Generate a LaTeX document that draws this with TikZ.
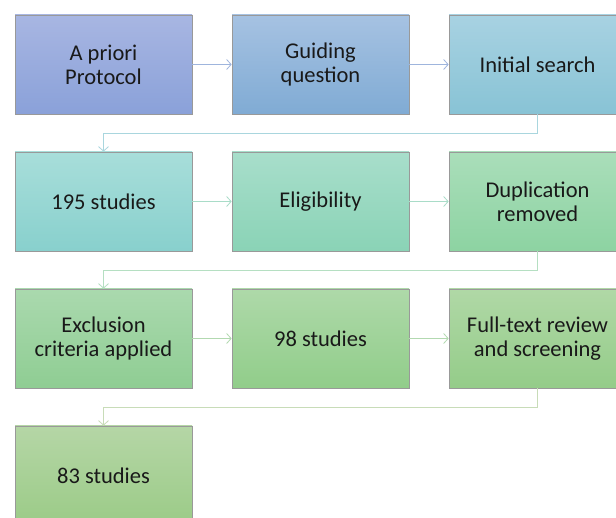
\documentclass[tikz,border=0pt]{standalone}
\usepackage{fontspec}
\setmainfont{Carlito}
\usetikzlibrary{arrows.meta}
\definecolor{aprioriTop}{HTML}{A8B6E2}
\definecolor{aprioriBot}{HTML}{8AA1D9}
\definecolor{guidingTop}{HTML}{A6C2E2}
\definecolor{guidingBot}{HTML}{80ABD4}
\definecolor{searchTop}{HTML}{A8D2E2}
\definecolor{searchBot}{HTML}{88C3D5}
\definecolor{foundTop}{HTML}{A8DEDA}
\definecolor{foundBot}{HTML}{88D0CD}
\definecolor{eligTop}{HTML}{A8DECB}
\definecolor{eligBot}{HTML}{8AD3B6}
\definecolor{dupTop}{HTML}{AADEBA}
\definecolor{dupBot}{HTML}{8DD3A2}
\definecolor{exclTop}{HTML}{AAD9AE}
\definecolor{exclBot}{HTML}{8FCD93}
\definecolor{keptTop}{HTML}{AED9A9}
\definecolor{keptBot}{HTML}{91CD8A}
\definecolor{fullTop}{HTML}{B0D8A6}
\definecolor{fullBot}{HTML}{94CC89}
\definecolor{finalTop}{HTML}{B5D6A6}
\definecolor{finalBot}{HTML}{9BCB87}
\definecolor{linkBlue}{HTML}{9FB5DD}
\definecolor{linkTeal}{HTML}{A9D6DE}
\definecolor{linkMint}{HTML}{A9DCC8}
\definecolor{linkGreen}{HTML}{B5DFC2}
\definecolor{linkLeaf}{HTML}{B2D9B0}
\definecolor{linkPale}{HTML}{C8DCB8}

\begin{document}
\begin{tikzpicture}[x=1pt, y=-1pt,
    box/.style={draw=black!40, line width=0.7pt, minimum width=177pt, minimum height=99pt,
      align=center, text=black!90, font=\fontsize{22.5}{24}\selectfont},
    link/.style={line width=0.8pt, -{Straight Barb[length=4.5pt,width=10pt]}}]
    \clip (0,0) rectangle (616,518);
    \fill[white] (0,0) rectangle (616,518);
    % row 1
    \node[box, top color=aprioriTop, bottom color=aprioriBot] (apriori) at (103.5,64.5) {A priori\\Protocol};
    \node[box, top color=guidingTop, bottom color=guidingBot] (guiding) at (320.5,64.5) {Guiding\\question};
    \node[box, top color=searchTop, bottom color=searchBot] (search) at (537.5,64.5) {Initial search};
    % row 2
    \node[box, top color=foundTop, bottom color=foundBot] (found) at (103.5,201.5) {195 studies};
    \node[box, top color=eligTop, bottom color=eligBot] (elig) at (320.5,201.5) {Eligibility};
    \node[box, top color=dupTop, bottom color=dupBot] (dup) at (537.5,201.5) {Duplication\\removed};
    % row 3
    \node[box, top color=exclTop, bottom color=exclBot] (excl) at (103.5,338.5) {Exclusion\\criteria applied};
    \node[box, top color=keptTop, bottom color=keptBot] (kept) at (320.5,338.5) {98 studies};
    \node[box, top color=fullTop, bottom color=fullBot] (full) at (537.5,338.5) {Full-text review\\and screening};
    % row 4
    \node[box, top color=finalTop, bottom color=finalBot] (final) at (103.5,475.5) {83 studies};
    % connectors
    \draw[link, linkBlue] (apriori) -- (guiding);
    \draw[link, linkBlue] (guiding) -- (search);
    \draw[link, linkTeal] (search.south) -- ++(0,19) -| (found.north);
    \draw[link, linkMint] (found) -- (elig);
    \draw[link, linkMint] (elig) -- (dup);
    \draw[link, linkGreen] (dup.south) -- ++(0,19) -| (excl.north);
    \draw[link, linkLeaf] (excl) -- (kept);
    \draw[link, linkLeaf] (kept) -- (full);
    \draw[link, linkPale] (full.south) -- ++(0,19) -| (final.north);
\end{tikzpicture}
\end{document}
